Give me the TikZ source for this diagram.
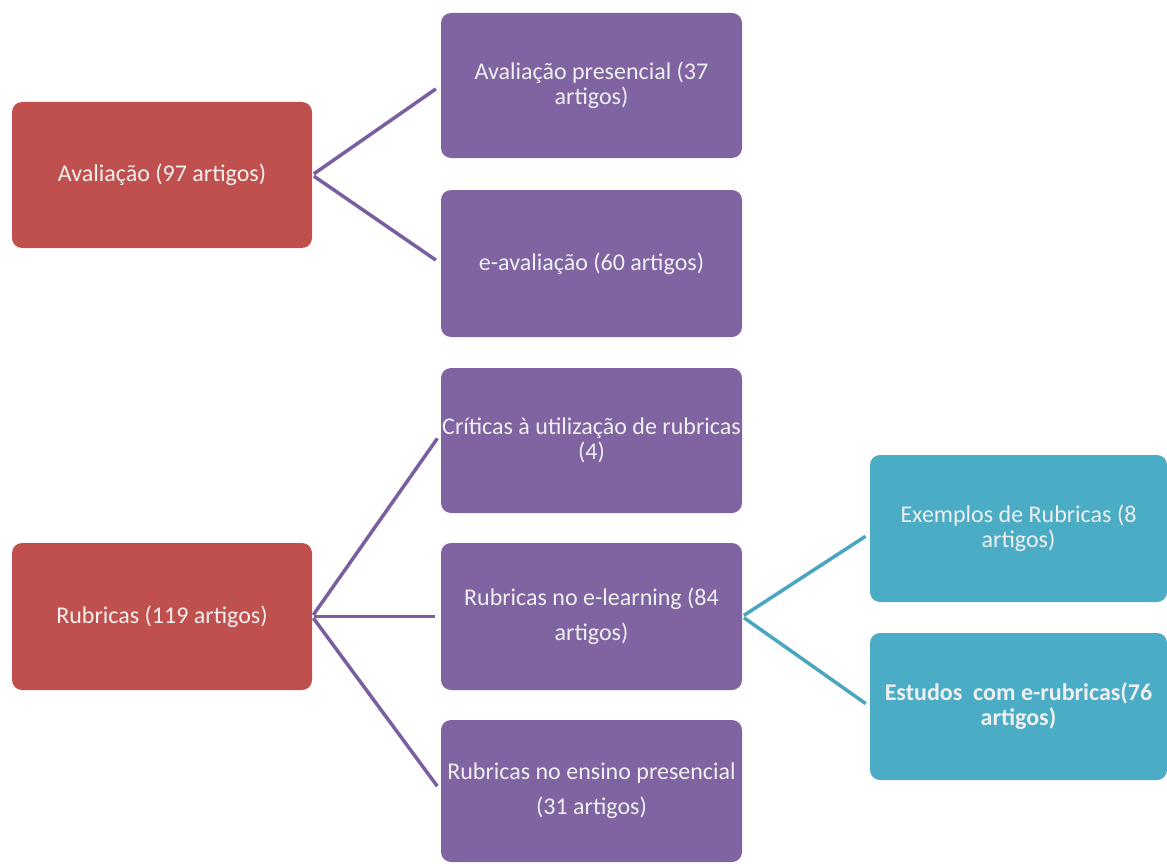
\documentclass[tikz,border=0pt]{standalone}
\usepackage{fontspec}
\setmainfont{Carlito}
\usepackage{xcolor}
\usepackage{tikz}
\usetikzlibrary{positioning}
\definecolor{boxred}{HTML}{C0504D}
\definecolor{boxpurple}{HTML}{8064A2}
\definecolor{boxcyan}{HTML}{4BACC6}
\definecolor{linepurple}{HTML}{7A5FA0}
\definecolor{linecyan}{HTML}{4AA6C0}
\tikzset{
    boxnode/.style = {align=center, inner sep=0pt, text centered, rectangle, rounded corners=10pt,
                      text=white!94!black, font=\fontsize{24}{25}\selectfont},
    red_box/.style = {boxnode, fill=boxred, minimum width=300pt, minimum height=146pt},
    purple_box/.style = {boxnode, fill=boxpurple, minimum width=301pt, minimum height=146pt},
    cyan_box/.style = {boxnode, fill=boxcyan, minimum width=297pt, minimum height=147pt},
    purple_edge/.style = {draw=linepurple, line width=3.5pt, shorten >=6pt, shorten <=2pt},
    cyan_edge/.style = {draw=linecyan, line width=3.5pt, shorten >=5pt, shorten <=2pt}
}

\begin{document}
\begin{tikzpicture}[x=1pt, y=-1pt]
    \useasboundingbox (0,0) rectangle (1167,864);

    \node [red_box] (aval) at (162,175) {Avaliação (97 artigos)};
    \node [purple_box, minimum height=145pt] (avalpres) at (591.5,85.5)
        {Avaliação presencial (37\\artigos)};
    \node [purple_box, minimum height=147pt] (eaval) at (591.5,263.5)
        {e-avaliação (60 artigos)};

    \node [purple_box, minimum height=145pt] (criticas) at (591.5,440.5)
        {Críticas à utilização de rubricas\\(4)};
    \node [red_box, minimum height=147pt] (rubricas) at (162,616.5) {Rubricas (119 artigos)};
    \node [purple_box, minimum height=147pt] (elearn) at (591.5,616.5)
        {Rubricas no e-learning (84\\[10pt]artigos)};
    \node [purple_box, minimum height=142pt] (ensino) at (591.5,791)
        {Rubricas no ensino presencial\\[10pt](31 artigos)};

    \node [cyan_box] (exemplos) at (1018.5,528.5) {Exemplos de Rubricas (8\\artigos)};
    \node [cyan_box, font=\fontsize{24}{25}\selectfont\bfseries] (estudos) at (1018.5,706.5)
        {Estudos\ \ com e-rubricas(76\\artigos)};

    \draw [purple_edge] (aval.east) -- (avalpres.west);
    \draw [purple_edge] (aval.east) -- (eaval.west);
    \draw [purple_edge] (rubricas.east) -- ([yshift=7pt]criticas.west);
    \draw [purple_edge] (rubricas.east) -- (elearn.west);
    \draw [purple_edge] (rubricas.east) -- (ensino.west);
    \draw [cyan_edge] (elearn.east) -- ([yshift=-5pt]exemplos.west);
    \draw [cyan_edge] (elearn.east) -- (estudos.west);
\end{tikzpicture}
\end{document}
